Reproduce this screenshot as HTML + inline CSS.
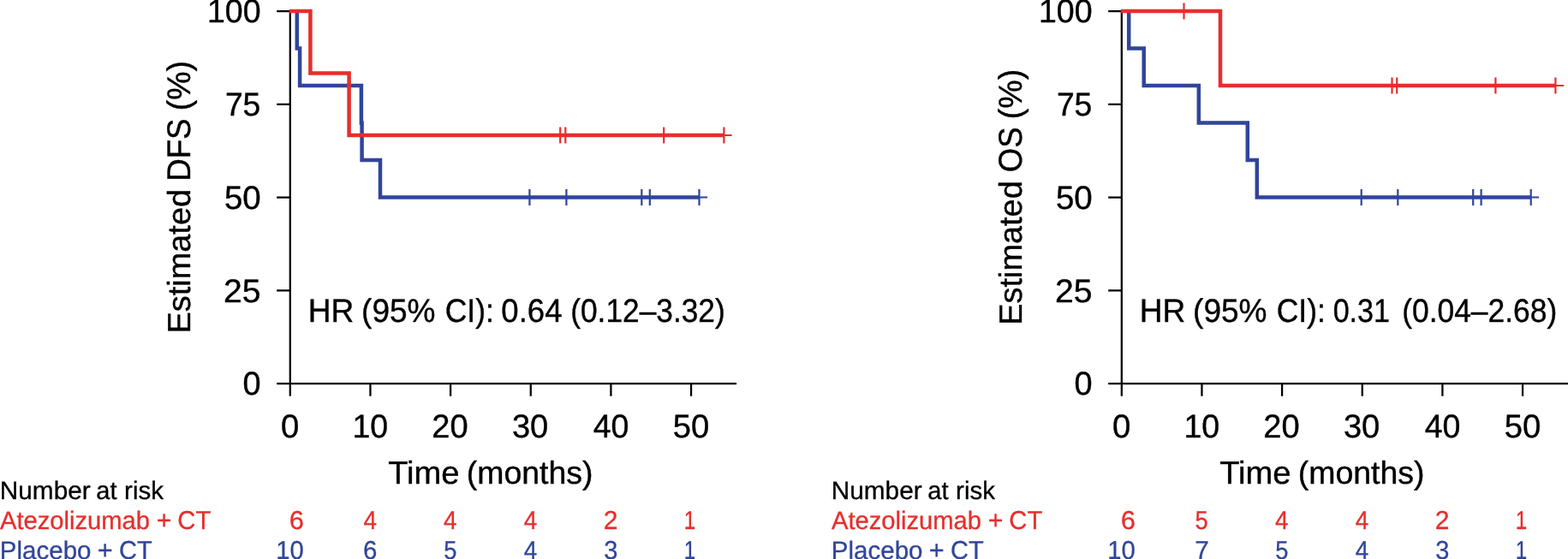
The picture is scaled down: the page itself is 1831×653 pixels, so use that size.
<!DOCTYPE html>
<html lang="en">
<head>
<meta charset="utf-8">
<title>Kaplan-Meier estimates of DFS and OS</title>
<style>
html,body{margin:0;padding:0;background:#fff;}
body{width:1831px;height:653px;overflow:hidden;}
svg{display:block;}
text{font-family:"Liberation Sans",Arial,Helvetica,sans-serif;stroke-linejoin:round;text-rendering:geometricPrecision;}
.b{font-size:38.4px;stroke-width:0.4px;}
.s{font-size:30.3px;stroke-width:0.3px;}
</style>
</head>
<body>
<svg width="1831" height="653" viewBox="0 0 1831 653">
<rect width="1831" height="653" fill="#fff"/>
<g id="dfs-plot">
<path d="M338.80 11.88 V462.80 M323.20 448.0 H860.00" stroke="#000" stroke-width="2.25" fill="none"/>
<path d="M323.20 13.00 H338.80 M323.20 121.75 H338.80 M323.20 230.50 H338.80 M323.20 339.25 H338.80 M432.45 448.0 V462.80 M526.10 448.0 V462.80 M619.75 448.0 V462.80 M713.40 448.0 V462.80 M807.05 448.0 V462.80" stroke="#000" stroke-width="2.25" fill="none"/>
<path d="M346.80 13.00 L346.80 56.50 L350.10 56.50 L350.10 100.00 L421.90 100.00 L421.90 143.50 L422.60 143.50 L422.60 187.00 L444.00 187.00 L444.00 230.50 L816.50 230.50" stroke="#30459a" stroke-width="4.5" fill="none" stroke-linejoin="miter"/>
<path d="M618.40 221.00 V240.00 M661.40 221.00 V240.00 M749.30 221.00 V240.00 M758.80 221.00 V240.00 M816.50 221.00 V240.00 M816.50 230.50 H826.10" stroke="#30459a" stroke-width="2.2" fill="none"/>
<path d="M338.00 13.00 L362.40 13.00 L362.40 85.50 L407.60 85.50 L407.60 158.00 L845.40 158.00" stroke="#e62e2c" stroke-width="4.5" fill="none" stroke-linejoin="miter"/>
<path d="M654.20 148.50 V167.50 M660.30 148.50 V167.50 M775.20 148.50 V167.50 M845.40 148.50 V167.50 M845.40 158.00 H854.60" stroke="#e62e2c" stroke-width="2.2" fill="none"/>
</g>
<g id="dfs-text" fill="#000" stroke="#000">
<text class="b" y="26.40"><tspan x="241.93" textLength="62.64" lengthAdjust="spacingAndGlyphs">100</tspan></text>
<text class="b" y="135.15"><tspan x="262.88" textLength="41.49" lengthAdjust="spacingAndGlyphs">75</tspan></text>
<text class="b" y="243.90"><tspan x="261.90" textLength="42.80" lengthAdjust="spacingAndGlyphs">50</tspan></text>
<text class="b" y="352.65"><tspan x="261.03" textLength="43.62" lengthAdjust="spacingAndGlyphs">25</tspan></text>
<text class="b" y="461.40"><tspan x="283.52" textLength="21.07" lengthAdjust="spacingAndGlyphs">0</tspan></text>
<text class="b" y="510.90"><tspan x="328.00" textLength="21.30" lengthAdjust="spacingAndGlyphs">0</tspan></text>
<text class="b" y="510.90"><tspan x="411.43" textLength="41.74" lengthAdjust="spacingAndGlyphs">10</tspan></text>
<text class="b" y="510.90"><tspan x="504.28" textLength="42.31" lengthAdjust="spacingAndGlyphs">20</tspan></text>
<text class="b" y="510.90"><tspan x="597.91" textLength="42.39" lengthAdjust="spacingAndGlyphs">30</tspan></text>
<text class="b" y="510.90"><tspan x="692.73" textLength="41.74" lengthAdjust="spacingAndGlyphs">40</tspan></text>
<text class="b" y="510.90"><tspan x="785.71" textLength="42.48" lengthAdjust="spacingAndGlyphs">50</tspan></text>
<text class="b" y="564.90"><tspan x="453.24" textLength="83.35" lengthAdjust="spacingAndGlyphs" font-size="37.44">Time</tspan> <tspan x="544.77" textLength="147.75" lengthAdjust="spacingAndGlyphs" font-size="37.44">(months)</tspan></text>
<text class="b" y="376.40"><tspan x="359.85" textLength="53.54" lengthAdjust="spacingAndGlyphs">HR</tspan> <tspan x="422.09" textLength="86.46" lengthAdjust="spacingAndGlyphs">(95%</tspan> <tspan x="519.78" textLength="57.09" lengthAdjust="spacingAndGlyphs">CI):</tspan> <tspan x="585.36" textLength="71.12" lengthAdjust="spacingAndGlyphs">0.64</tspan> <tspan x="666.19" textLength="180.53" lengthAdjust="spacingAndGlyphs">(0.12–3.32)</tspan></text>
<text class="b" transform="translate(222.00 0) rotate(-90)"><tspan x="-389.51" textLength="168.58" lengthAdjust="spacingAndGlyphs" font-size="37.44">Estimated</tspan> <tspan x="-211.82" textLength="73.34" lengthAdjust="spacingAndGlyphs">DFS</tspan> <tspan x="-129.13" textLength="58.14" lengthAdjust="spacingAndGlyphs">(%)</tspan></text>
<text class="s" y="582.90"><tspan x="-0.19" textLength="105.83" lengthAdjust="spacingAndGlyphs" font-size="29.54">Number</tspan> <tspan x="112.31" textLength="24.25" lengthAdjust="spacingAndGlyphs" font-size="29.54">at</tspan> <tspan x="145.09" textLength="45.86" lengthAdjust="spacingAndGlyphs" font-size="29.54">risk</tspan></text>
<text class="s" fill="#e62e2c" stroke="#e62e2c" y="617.90"><tspan x="0.04" textLength="174.96" lengthAdjust="spacingAndGlyphs" font-size="29.54">Atezolizumab</tspan> <tspan x="182.67" textLength="17.67" lengthAdjust="spacingAndGlyphs">+</tspan> <tspan x="207.37" textLength="38.43" lengthAdjust="spacingAndGlyphs">CT</tspan> <tspan x="337.77" textLength="17.24" lengthAdjust="spacingAndGlyphs">6</tspan> <tspan x="424.45" textLength="15.48" lengthAdjust="spacingAndGlyphs">4</tspan> <tspan x="518.10" textLength="15.48" lengthAdjust="spacingAndGlyphs">4</tspan> <tspan x="611.75" textLength="15.48" lengthAdjust="spacingAndGlyphs">4</tspan> <tspan x="704.73" textLength="16.73" lengthAdjust="spacingAndGlyphs">2</tspan> <tspan x="798.83" textLength="13.48" lengthAdjust="spacingAndGlyphs">1</tspan></text>
<text class="s" fill="#30459a" stroke="#30459a" y="652.90"><tspan x="-0.17" textLength="106.67" lengthAdjust="spacingAndGlyphs" font-size="29.54">Placebo</tspan> <tspan x="113.85" textLength="17.91" lengthAdjust="spacingAndGlyphs">+</tspan> <tspan x="138.98" textLength="38.22" lengthAdjust="spacingAndGlyphs">CT</tspan> <tspan x="322.32" textLength="32.48" lengthAdjust="spacingAndGlyphs">10</tspan> <tspan x="424.09" textLength="16.41" lengthAdjust="spacingAndGlyphs">6</tspan> <tspan x="518.20" textLength="15.22" lengthAdjust="spacingAndGlyphs">5</tspan> <tspan x="611.75" textLength="15.48" lengthAdjust="spacingAndGlyphs">4</tspan> <tspan x="705.31" textLength="16.13" lengthAdjust="spacingAndGlyphs">3</tspan> <tspan x="798.83" textLength="13.48" lengthAdjust="spacingAndGlyphs">1</tspan></text>
</g>
<g id="os-plot">
<path d="M1309.80 11.88 V462.80 M1294.20 448.0 H1831.00" stroke="#000" stroke-width="2.25" fill="none"/>
<path d="M1294.20 13.00 H1309.80 M1294.20 121.75 H1309.80 M1294.20 230.50 H1309.80 M1294.20 339.25 H1309.80 M1403.45 448.0 V462.80 M1497.10 448.0 V462.80 M1590.75 448.0 V462.80 M1684.40 448.0 V462.80 M1778.05 448.0 V462.80" stroke="#000" stroke-width="2.25" fill="none"/>
<path d="M1318.20 13.00 L1318.20 56.50 L1335.70 56.50 L1335.70 100.00 L1399.80 100.00 L1399.80 143.50 L1456.80 143.50 L1456.80 187.00 L1467.80 187.00 L1467.80 230.50 L1787.70 230.50" stroke="#30459a" stroke-width="4.5" fill="none" stroke-linejoin="miter"/>
<path d="M1589.70 221.00 V240.00 M1632.30 221.00 V240.00 M1720.20 221.00 V240.00 M1729.60 221.00 V240.00 M1787.70 221.00 V240.00 M1787.70 230.50 H1797.10" stroke="#30459a" stroke-width="2.2" fill="none"/>
<path d="M1309.00 13.00 L1425.00 13.00 L1425.00 100.00 L1816.40 100.00" stroke="#e62e2c" stroke-width="4.5" fill="none" stroke-linejoin="miter"/>
<path d="M1382.50 3.50 V22.50 M1625.50 90.50 V109.50 M1631.20 90.50 V109.50 M1746.40 90.50 V109.50 M1816.40 90.50 V109.50 M1816.40 100.00 H1826.00" stroke="#e62e2c" stroke-width="2.2" fill="none"/>
</g>
<g id="os-text" fill="#000" stroke="#000">
<text class="b" y="26.40"><tspan x="1212.93" textLength="62.64" lengthAdjust="spacingAndGlyphs">100</tspan></text>
<text class="b" y="135.15"><tspan x="1233.88" textLength="41.49" lengthAdjust="spacingAndGlyphs">75</tspan></text>
<text class="b" y="243.90"><tspan x="1232.90" textLength="42.80" lengthAdjust="spacingAndGlyphs">50</tspan></text>
<text class="b" y="352.65"><tspan x="1232.03" textLength="43.62" lengthAdjust="spacingAndGlyphs">25</tspan></text>
<text class="b" y="461.40"><tspan x="1254.52" textLength="21.07" lengthAdjust="spacingAndGlyphs">0</tspan></text>
<text class="b" y="510.90"><tspan x="1299.00" textLength="21.30" lengthAdjust="spacingAndGlyphs">0</tspan></text>
<text class="b" y="510.90"><tspan x="1382.43" textLength="41.74" lengthAdjust="spacingAndGlyphs">10</tspan></text>
<text class="b" y="510.90"><tspan x="1475.28" textLength="42.31" lengthAdjust="spacingAndGlyphs">20</tspan></text>
<text class="b" y="510.90"><tspan x="1568.91" textLength="42.39" lengthAdjust="spacingAndGlyphs">30</tspan></text>
<text class="b" y="510.90"><tspan x="1663.73" textLength="41.74" lengthAdjust="spacingAndGlyphs">40</tspan></text>
<text class="b" y="510.90"><tspan x="1756.71" textLength="42.48" lengthAdjust="spacingAndGlyphs">50</tspan></text>
<text class="b" y="564.90"><tspan x="1424.24" textLength="83.35" lengthAdjust="spacingAndGlyphs" font-size="37.44">Time</tspan> <tspan x="1515.77" textLength="147.75" lengthAdjust="spacingAndGlyphs" font-size="37.44">(months)</tspan></text>
<text class="b" y="376.40"><tspan x="1330.85" textLength="53.54" lengthAdjust="spacingAndGlyphs">HR</tspan> <tspan x="1393.09" textLength="86.46" lengthAdjust="spacingAndGlyphs">(95%</tspan> <tspan x="1490.78" textLength="57.09" lengthAdjust="spacingAndGlyphs">CI):</tspan> <tspan x="1556.65" textLength="66.35" lengthAdjust="spacingAndGlyphs">0.31</tspan> <tspan x="1637.18" textLength="181.04" lengthAdjust="spacingAndGlyphs">(0.04–2.68)</tspan></text>
<text class="b" transform="translate(1193.00 0) rotate(-90)"><tspan x="-379.81" textLength="168.58" lengthAdjust="spacingAndGlyphs" font-size="37.44">Estimated</tspan> <tspan x="-201.24" textLength="52.75" lengthAdjust="spacingAndGlyphs">OS</tspan> <tspan x="-139.13" textLength="58.25" lengthAdjust="spacingAndGlyphs">(%)</tspan></text>
<text class="s" y="582.90"><tspan x="970.81" textLength="105.83" lengthAdjust="spacingAndGlyphs" font-size="29.54">Number</tspan> <tspan x="1083.31" textLength="24.25" lengthAdjust="spacingAndGlyphs" font-size="29.54">at</tspan> <tspan x="1116.09" textLength="45.86" lengthAdjust="spacingAndGlyphs" font-size="29.54">risk</tspan></text>
<text class="s" fill="#e62e2c" stroke="#e62e2c" y="617.90"><tspan x="971.04" textLength="174.96" lengthAdjust="spacingAndGlyphs" font-size="29.54">Atezolizumab</tspan> <tspan x="1153.67" textLength="17.67" lengthAdjust="spacingAndGlyphs">+</tspan> <tspan x="1178.37" textLength="38.43" lengthAdjust="spacingAndGlyphs">CT</tspan> <tspan x="1308.77" textLength="17.24" lengthAdjust="spacingAndGlyphs">6</tspan> <tspan x="1395.55" textLength="15.22" lengthAdjust="spacingAndGlyphs">5</tspan> <tspan x="1489.10" textLength="15.48" lengthAdjust="spacingAndGlyphs">4</tspan> <tspan x="1582.75" textLength="15.48" lengthAdjust="spacingAndGlyphs">4</tspan> <tspan x="1675.73" textLength="16.73" lengthAdjust="spacingAndGlyphs">2</tspan> <tspan x="1769.83" textLength="13.48" lengthAdjust="spacingAndGlyphs">1</tspan></text>
<text class="s" fill="#30459a" stroke="#30459a" y="652.90"><tspan x="970.83" textLength="106.67" lengthAdjust="spacingAndGlyphs" font-size="29.54">Placebo</tspan> <tspan x="1084.85" textLength="17.91" lengthAdjust="spacingAndGlyphs">+</tspan> <tspan x="1109.98" textLength="38.22" lengthAdjust="spacingAndGlyphs">CT</tspan> <tspan x="1293.32" textLength="32.48" lengthAdjust="spacingAndGlyphs">10</tspan> <tspan x="1395.27" textLength="16.53" lengthAdjust="spacingAndGlyphs">7</tspan> <tspan x="1489.20" textLength="15.22" lengthAdjust="spacingAndGlyphs">5</tspan> <tspan x="1582.75" textLength="15.48" lengthAdjust="spacingAndGlyphs">4</tspan> <tspan x="1676.31" textLength="16.13" lengthAdjust="spacingAndGlyphs">3</tspan> <tspan x="1769.83" textLength="13.48" lengthAdjust="spacingAndGlyphs">1</tspan></text>
</g>
</svg>
</body>
</html>
